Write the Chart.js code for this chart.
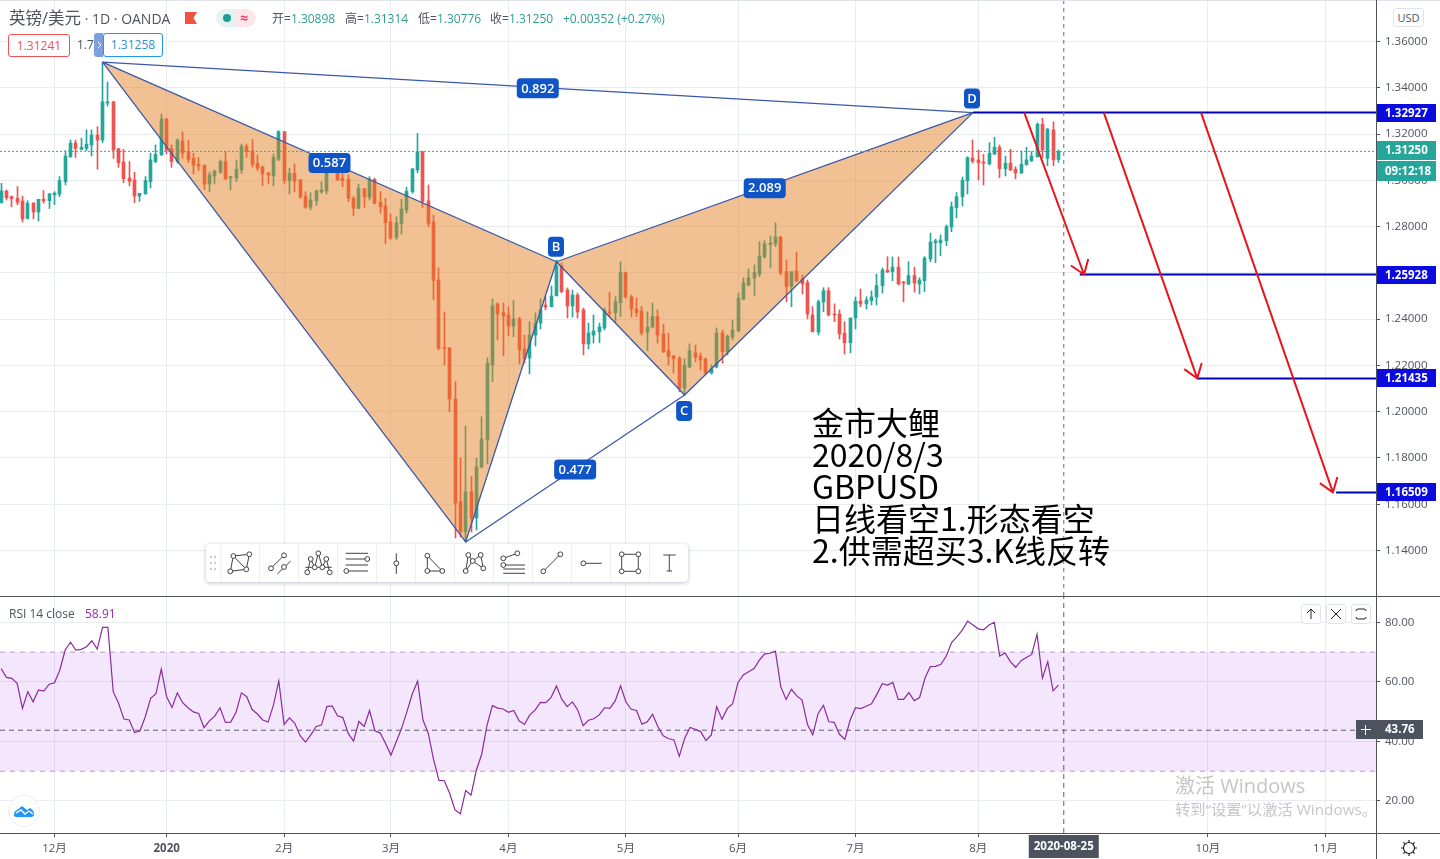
<!DOCTYPE html>
<html>
<head>
<meta charset="utf-8">
<title>GBPUSD</title>
<script src="https://cdn.jsdelivr.net/npm/chart.js@4/dist/chart.umd.min.js"></script>
<style>
  html, body { margin: 0; padding: 0; background: #fff; overflow: hidden; }
  body { width: 1440px; height: 859px; position: relative; font-family: "Open Sans", "Noto Sans CJK SC", sans-serif; color: #50535e; }
  canvas { position: absolute; left: 0; }
  #mainChart { top: 0; }
  #rsiChart { top: 596px; }
  .abs { position: absolute; white-space: nowrap; }
  .hline { position: absolute; left: 0; width: 1440px; height: 1px; background: #50535e; }
  .vline { position: absolute; top: 0; left: 1376px; width: 1px; height: 859px; background: #50535e; }
  .ohlc { top: 11px; font-size: 12px; line-height: 15px; color: #50535e; }
  .ohlc b { font-weight: normal; color: #2f9d92; }
  .note { left: 812px; font-size: 32px; line-height: 32px; color: #000; font-family: "Noto Sans CJK SC", sans-serif; }
  .pbtn { top: 604px; width: 18px; height: 18px; border: 1px solid #e0e3eb; border-radius: 3px; background: #fff; }
  #tools { left: 206px; top: 544px; width: 482px; height: 38px; background: #fff; border-radius: 4px; box-shadow: 0 1px 4px rgba(70,80,110,.35); }
</style>
</head>
<body>
<canvas id="mainChart" width="1440" height="596"></canvas>
<canvas id="rsiChart" width="1440" height="263"></canvas>

<div class="hline" style="top:0;background:#e0e3eb"></div>
<div class="hline" style="top:596px"></div>
<div class="hline" style="top:833px"></div>
<div class="vline"></div>

<div class="abs" style="left:9px;top:9px;font-size:14px;line-height:18px"><span style="font-size:16.5px">英镑/美元</span> · 1D · OANDA</div>
<svg class="abs" style="left:184px;top:11px" width="14" height="14"><path d="M1 1H13L9.5 7L13 13H1Z" fill="#f0533f"/></svg>
<div class="abs" style="left:216px;top:9px;width:20px;height:18px;background:#e3f3f1;border-radius:9px 0 0 9px"></div>
<div class="abs" style="left:236px;top:9px;width:20px;height:18px;background:#fde6ea;border-radius:0 9px 9px 0"></div>
<div class="abs" style="left:223px;top:14px;width:8px;height:8px;background:#1f9c90;border-radius:50%"></div>
<div class="abs" style="left:240px;top:9px;font-size:14px;line-height:17px;font-weight:bold;color:#ec407a">≈</div>
<div class="abs ohlc" style="left:272px">开=<b>1.30898</b></div>
<div class="abs ohlc" style="left:345px">高=<b>1.31314</b></div>
<div class="abs ohlc" style="left:418px">低=<b>1.30776</b></div>
<div class="abs ohlc" style="left:490px">收=<b>1.31250</b></div>
<div class="abs ohlc" style="left:563px"><b>+0.00352 (+0.27%)</b></div>

<div class="abs" style="left:8px;top:34px;width:60px;height:21px;border:1px solid #ef5350;border-radius:3px;background:#fff;color:#ef5350;font-size:12px;line-height:21px;text-align:center">1.31241</div>
<div class="abs" style="left:77px;top:37px;font-size:12px;line-height:15px">1.7</div>
<svg class="abs" style="left:94px;top:33px" width="9" height="24"><path d="M3 0H9V24H3Q0 24 0 21V3Q0 0 3 0Z" fill="#7e9fe0"/><path d="M4 9L7 12L4 15" fill="none" stroke="#fff"/></svg>
<div class="abs" style="left:103px;top:33px;width:58px;height:22px;border:1px solid #2196f3;border-radius:3px;background:#fff;color:#2a8fe0;font-size:12px;line-height:22px;text-align:center">1.31258</div>

<div class="abs note" style="top:405px">金市大鲤</div>
<div class="abs note" style="top:437px">2020/8/3</div>
<div class="abs note" style="top:469px">GBPUSD</div>
<div class="abs note" style="top:501px">日线看空1.形态看空</div>
<div class="abs note" style="top:533px">2.供需超买3.K线反转</div>

<div id="tools" class="abs"></div>
<svg id="toolIcons" class="abs" style="left:0;top:0;pointer-events:none" width="1440" height="596"></svg>

<div class="abs" style="left:1393px;top:8px;width:29px;height:17px;border:1px solid #e0e3eb;border-radius:3px;font-size:11px;line-height:17px;text-align:center;background:#fff">USD</div>

<div class="abs" style="left:9px;top:606px;font-size:12px;line-height:15px">RSI 14 close</div>
<div class="abs" style="left:85px;top:606px;font-size:12px;line-height:15px;color:#9c27b0">58.91</div>
<svg class="abs pbtn" style="left:1301px" viewBox="0 0 18 18"><path d="M9 14V4M5 8L9 4L13 8" fill="none" stroke="#222"/></svg>
<svg class="abs pbtn" style="left:1326px" viewBox="0 0 18 18"><path d="M4 4L14 14M14 4L4 14" fill="none" stroke="#222"/></svg>
<svg class="abs pbtn" style="left:1351px" viewBox="0 0 18 18"><path d="M6 4H12Q14 4 14 6M14 12Q14 14 12 14H6Q4 14 4 12M4 6Q4 4 6 4" fill="none" stroke="#222"/></svg>

<svg class="abs" style="left:7px;top:794px" width="34" height="34">
  <circle cx="17" cy="17" r="15.5" fill="#fff" stroke="#ececec"/>
  <path d="M7 21Q7 17 10 16L15 12L20 16L23 14Q27 16 27 20Q27 23 24 23H10Q7 23 7 21Z" fill="#2196f3"/>
  <path d="M9 19L14 16L18 20L22 17L26 20" fill="none" stroke="#fff" stroke-width="1.4"/>
</svg>

<div class="abs" style="left:1175px;top:773px;font-size:20px;line-height:25px;color:#c6c6c6">激活 Windows</div>
<div class="abs" style="left:1175px;top:800px;font-size:15.3px;line-height:18px;color:#c6c6c6">转到“设置”以激活 Windows。</div>

<svg class="abs" style="left:1399px;top:838px" width="20" height="20">
  <circle cx="10" cy="10" r="5.5" fill="none" stroke="#222" stroke-width="1.2"/>
  <path d="M10 2V4.5M10 15.5V18M2 10H4.5M15.5 10H18M4.4 4.4L6.1 6.1M13.9 13.9L15.6 15.6M4.4 15.6L6.1 13.9M13.9 6.1L15.6 4.4" stroke="#222" stroke-width="1.2"/>
</svg>

<script>
// candles, oldest first (2019-11 .. 2020-08-24)
const opens = [
  1.2904,1.2954,1.2930,1.2922,1.2911,1.2835,1.2901,1.2863,1.2918,1.2912,
  1.2937,1.2940,1.2994,1.3102,1.3161,1.3134,1.3138,1.3153,1.3196,1.3174,
  1.3334,1.3339,1.3136,1.3079,1.3010,1.3002,1.2932,1.2941,1.2994,1.3081,
  1.3110,1.3265,1.3138,1.3081,1.3170,1.3124,1.3095,1.3069,1.3065,1.2984,
  1.3019,1.3035,1.3081,1.3010,1.3009,1.3045,1.3146,1.3127,1.3074,1.3058,
  1.3032,1.3019,1.3091,1.3210,1.2999,1.3030,1.3002,1.2932,1.2884,1.2912,
  1.2950,1.2954,1.3038,1.3059,1.3009,1.3004,1.2922,1.2879,1.2963,1.2927,
  1.3004,1.2904,1.2889,1.2820,1.2754,1.2814,1.2872,1.2951,1.3045,1.3124,
  1.2911,1.2820,1.2569,1.2277,1.2275,1.2055,1.1611,1.1480,1.1654,1.1540,
  1.1761,1.1878,1.2202,1.2466,1.2428,1.2418,1.2370,1.2401,1.2271,1.2232,
  1.2331,1.2383,1.2461,1.2454,1.2501,1.2631,1.2526,1.2457,1.2504,1.2440,
  1.2293,1.2331,1.2346,1.2362,1.2431,1.2427,1.2471,1.2601,1.2496,1.2444,
  1.2435,1.2344,1.2366,1.2411,1.2336,1.2264,1.2241,1.2232,1.2102,1.2193,
  1.2254,1.2238,1.2228,1.2167,1.2193,1.2340,1.2259,1.2323,1.2349,1.2487,
  1.2548,1.2578,1.2595,1.2669,1.2722,1.2725,1.2755,1.2605,1.2543,1.2608,
  1.2574,1.2558,1.2418,1.2344,1.2474,1.2523,1.2422,1.2422,1.2340,1.2298,
  1.2405,1.2478,1.2466,1.2480,1.2496,1.2545,1.2612,1.2605,1.2625,1.2561,
  1.2552,1.2588,1.2552,1.2566,1.2660,1.2730,1.2730,1.2739,1.2798,1.2882,
  1.2929,1.2998,1.3097,1.3088,1.3079,1.3071,1.3114,1.3143,1.3050,1.3074,
  1.3048,1.3032,1.3068,1.3085,1.3102,1.3242,1.3095,1.3218,1.30898
];
const highs = [
  1.2987,1.2958,1.2932,1.2973,1.2932,1.2912,1.2904,1.2918,1.2956,1.2944,
  1.2951,1.3016,1.3128,1.3174,1.3174,1.3182,1.3218,1.3218,1.3232,1.3511,
  1.3425,1.3342,1.3138,1.3134,1.3081,1.3035,1.2944,1.3016,1.3117,1.3153,
  1.3287,1.3267,1.3153,1.3180,1.3210,1.3174,1.3117,1.3099,1.3067,1.3036,
  1.3045,1.3088,1.3124,1.3016,1.3088,1.3157,1.3157,1.3177,1.3110,1.3062,
  1.3034,1.3114,1.3215,1.3212,1.3052,1.3071,1.3004,1.2951,1.2947,1.2958,
  1.2994,1.3059,1.3088,1.3062,1.3038,1.3023,1.2930,1.2984,1.2965,1.3016,
  1.3009,1.2951,1.2922,1.2855,1.2843,1.2918,1.2970,1.3052,1.3203,1.3126,
  1.2980,1.2850,1.2622,1.2431,1.2277,1.2130,1.1800,1.1938,1.1719,1.1800,
  1.1978,1.2232,1.2487,1.2471,1.2470,1.2453,1.2480,1.2409,1.2331,1.2389,
  1.2427,1.2487,1.2497,1.2543,1.2656,1.2643,1.2535,1.2526,1.2513,1.2448,
  1.2383,1.2418,1.2383,1.2448,1.2517,1.2497,1.2648,1.2604,1.2504,1.2491,
  1.2454,1.2432,1.2470,1.2440,1.2379,1.2340,1.2243,1.2238,1.2228,1.2293,
  1.2288,1.2254,1.2232,1.2202,1.2362,1.2353,1.2331,1.2396,1.2513,1.2578,
  1.2617,1.2634,1.2735,1.2739,1.2759,1.2816,1.2759,1.2656,1.2605,1.2690,
  1.2591,1.2569,1.2454,1.2483,1.2536,1.2536,1.2466,1.2440,1.2389,1.2405,
  1.2496,1.2530,1.2497,1.2522,1.2595,1.2621,1.2670,1.2669,1.2669,1.2563,
  1.2648,1.2625,1.2579,1.2670,1.2772,1.2746,1.2764,1.2807,1.2906,1.2947,
  1.3014,1.3102,1.3174,1.3131,1.3112,1.3163,1.3186,1.3153,1.3105,1.3134,
  1.3059,1.3127,1.3143,1.3124,1.3248,1.3268,1.3225,1.3253,1.31314
];
const lows = [
  1.2901,1.2915,1.2886,1.2894,1.2820,1.2833,1.2833,1.2824,1.2901,1.2878,
  1.2895,1.2930,1.2980,1.3099,1.3099,1.3131,1.3128,1.3105,1.3048,1.3163,
  1.3321,1.3095,1.3056,1.2990,1.2976,1.2904,1.2909,1.2941,1.2967,1.3076,
  1.3107,1.3114,1.3056,1.3074,1.3095,1.3076,1.3028,1.3042,1.2961,1.2951,
  1.2984,1.3030,1.3004,1.2958,1.2994,1.3030,1.3099,1.3056,1.3042,1.2976,
  1.2984,1.2976,1.3085,1.2984,1.2941,1.2950,1.2922,1.2879,1.2872,1.2892,
  1.2944,1.2941,1.3033,1.2999,1.2973,1.2908,1.2846,1.2877,1.2883,1.2915,
  1.2898,1.2858,1.2725,1.2745,1.2745,1.2768,1.2858,1.2944,1.3033,1.2883,
  1.2800,1.2483,1.2267,1.2202,1.1999,1.1454,1.1458,1.1438,1.1480,1.1489,
  1.1757,1.1774,1.2130,1.2310,1.2241,1.2327,1.2324,1.2206,1.2210,1.2163,
  1.2284,1.2357,1.2440,1.2453,1.2500,1.2513,1.2405,1.2409,1.2405,1.2245,
  1.2271,1.2297,1.2298,1.2353,1.2411,1.2389,1.2411,1.2490,1.2409,1.2411,
  1.2331,1.2264,1.2362,1.2297,1.2255,1.2202,1.2167,1.2086,1.2072,1.2189,
  1.2216,1.2180,1.2163,1.2163,1.2189,1.2210,1.2245,1.2310,1.2346,1.2483,
  1.2543,1.2500,1.2583,1.2664,1.2621,1.2713,1.2591,1.2475,1.2454,1.2562,
  1.2509,1.2401,1.2344,1.2331,1.2432,1.2414,1.2389,1.2314,1.2249,1.2254,
  1.2357,1.2454,1.2444,1.2461,1.2461,1.2513,1.2601,1.2566,1.2548,1.2475,
  1.2548,1.2517,1.2509,1.2519,1.2648,1.2644,1.2674,1.2718,1.2778,1.2838,
  1.2889,1.2941,1.3075,1.3001,1.2980,1.3066,1.3111,1.3011,1.3019,1.3042,
  1.3006,1.3029,1.3065,1.3081,1.3100,1.3097,1.3063,1.3063,1.30776
];
const closes = [
  1.2954,1.2925,1.2921,1.2905,1.2833,1.2901,1.2863,1.2918,1.2911,1.2941,
  1.2945,1.2999,1.3105,1.3161,1.3138,1.3143,1.3156,1.3196,1.3174,1.3339,
  1.3339,1.3131,1.3076,1.3007,1.2996,1.2932,1.2944,1.2999,1.3088,1.3112,
  1.3265,1.3131,1.3081,1.3173,1.3117,1.3091,1.3066,1.3062,1.2984,1.3023,
  1.3040,1.3081,1.3006,1.3016,1.3048,1.3148,1.3124,1.3069,1.3052,1.3028,
  1.3023,1.3099,1.3210,1.2999,1.3030,1.2996,1.2927,1.2884,1.2915,1.2954,
  1.2958,1.3038,1.3059,1.3002,1.2999,1.2922,1.2879,1.2966,1.2929,1.3002,
  1.2901,1.2886,1.2817,1.2750,1.2817,1.2876,1.2953,1.3049,1.3124,1.2908,
  1.2814,1.2567,1.2274,1.2274,1.2055,1.1605,1.1481,1.1653,1.1540,1.1761,
  1.1882,1.2210,1.2457,1.2422,1.2414,1.2370,1.2401,1.2267,1.2228,1.2331,
  1.2383,1.2440,1.2453,1.2500,1.2631,1.2519,1.2457,1.2504,1.2431,1.2293,
  1.2340,1.2349,1.2367,1.2440,1.2427,1.2475,1.2601,1.2496,1.2444,1.2428,
  1.2340,1.2366,1.2411,1.2331,1.2259,1.2238,1.2229,1.2102,1.2202,1.2264,
  1.2236,1.2224,1.2167,1.2185,1.2340,1.2259,1.2327,1.2353,1.2491,1.2556,
  1.2578,1.2601,1.2673,1.2725,1.2729,1.2755,1.2600,1.2540,1.2605,1.2566,
  1.2552,1.2422,1.2346,1.2475,1.2523,1.2418,1.2418,1.2336,1.2298,1.2405,
  1.2478,1.2466,1.2483,1.2496,1.2545,1.2612,1.2604,1.2625,1.2552,1.2556,
  1.2588,1.2556,1.2569,1.2664,1.2733,1.2738,1.2742,1.2800,1.2886,1.2929,
  1.3001,1.3098,1.3082,1.3076,1.3074,1.3117,1.3143,1.3050,1.3074,1.3045,
  1.3032,1.3069,1.3088,1.3105,1.3242,1.3131,1.3221,1.3088,1.31250
];
const rsiValues = [
  64.5,61.5,61.2,59.5,51.1,56.7,53.3,57.3,56.9,59.2,
  59.7,64.0,70.7,73.3,70.7,70.9,71.8,73.8,71.0,78.3,
  78.3,56.7,52.8,47.5,47.2,43.0,43.5,48.3,54.5,56.0,
  64.3,55.0,51.4,56.3,53.0,51.3,49.9,49.4,44.6,46.9,
  48.5,51.3,46.4,46.5,49.8,56.3,55.0,50.7,49.2,47.2,
  46.5,52.2,60.3,45.7,47.9,46.1,41.9,39.8,42.2,45.0,
  45.5,51.7,51.9,48.6,48.0,42.7,40.1,46.7,45.0,50.4,
  43.6,42.8,39.3,35.4,39.9,44.4,50.0,55.9,60.3,47.2,
  42.7,33.8,26.9,26.8,22.6,17.0,15.7,23.5,22.0,30.4,
  35.7,45.5,52.0,51.2,50.9,49.8,50.4,46.9,45.7,48.9,
  50.5,53.1,53.0,54.8,58.6,54.2,51.7,53.3,50.5,45.3,
  47.1,47.6,48.9,51.3,51.1,53.6,58.7,53.3,50.8,50.4,
  45.8,46.6,49.1,44.9,41.9,40.9,40.5,35.0,41.0,44.7,
  44.1,43.3,40.3,42.2,51.7,47.4,51.1,52.7,59.8,62.3,
  63.4,64.5,67.3,69.4,69.6,70.3,58.4,54.1,57.5,55.3,
  53.9,45.7,42.2,49.4,52.1,46.6,46.4,42.4,40.7,47.2,
  51.3,51.0,51.8,52.6,55.8,59.4,58.9,59.8,54.1,54.1,
  56.4,53.7,54.7,61.2,65.1,65.2,65.9,68.7,73.2,75.2,
  77.4,80.4,79.1,77.8,77.5,79.1,80.0,68.7,69.7,66.8,
  64.9,67.1,68.2,69.2,76.0,61.2,66.8,57.0,58.91
];

// axes
const priceTicks = [1.36, 1.34, 1.32, 1.30, 1.28, 1.26, 1.24, 1.22, 1.20, 1.18, 1.16, 1.14];
const rsiTicks = [80, 60, 40, 20];
const monthBars = [10, 31, 53, 73, 95, 117, 138, 160, 183, 226, 248];
const monthLabels = ['12月', '2020', '2月', '3月', '4月', '5月', '6月', '7月', '8月', '10月', '11月'];
const yearBar = 31;
const crossBar = 199;
const crossDate = '2020-08-25';
const crossRsi = 43.76;

// XABCD pattern: bar index and price of each point
const patternBars = [19, 87, 104, 128, 182];
const patternPrices = [1.3511, 1.1437, 1.2648, 1.2072, 1.32927];
const patternRatios = ['0.892', '0.587', '2.089', '0.477'];

// target levels and the arrows drawn to them
const lastPrice = 1.3125;
const levelPrices = [1.32927, 1.25928, 1.21435, 1.16509];
const levelBars = [182, 202, 224, 250];
const arrowFromBars = [191.6, 206.5, 224.7];
const arrowToBars = [202.8, 224, 249.4];
const arrowToPrices = [1.2593, 1.2144, 1.1651];

const xMin = -0.206, xMax = 257.47;
const priceMin = 1.12033, priceMax = 1.37794;
const rsiMin = 9.25, rsiMax = 88.83;

const GRID = '#e9ecf1', TEXT = '#50535e', UP = '#26a69a', DOWN = '#ef5350';
const FONT = '"Open Sans", "Noto Sans CJK SC", sans-serif';
const PATTERN_LINE = '#3a58aa', BADGE = '#0f55c8';

function lineSet(points, color, width, order, dash, extra) {
  return Object.assign({
    type: 'line',
    data: points,
    borderColor: color,
    borderWidth: width,
    borderDash: dash || [],
    pointRadius: 0,
    tension: 0,
    fill: false,
    order
  }, extra || {});
}

function pt(i) {
  return { x: patternBars[i], y: patternPrices[i] };
}

function sideAxis(ticks, fmt) {
  return {
    position: 'right',
    afterBuildTicks: s => { s.ticks = ticks.map(v => ({ value: v })); },
    afterFit: s => { s.width = 64; s.paddingTop = 0; s.paddingBottom = 0; },
    border: { display: false },
    grid: { color: GRID, tickColor: TEXT, tickLength: 4 },
    ticks: { color: TEXT, padding: 5, font: { family: FONT, size: 11.5 }, callback: fmt, autoSkip: false }
  };
}

function roundBox(ctx, x, y, w, h, r, fill) {
  ctx.fillStyle = fill;
  ctx.beginPath();
  ctx.roundRect(x, y, w, h, r);
  ctx.fill();
}

function badge(ctx, cx, cy, w, text) {
  roundBox(ctx, cx - w / 2, cy - 10, w, 20, 4, BADGE);
  ctx.fillStyle = '#fff';
  ctx.font = '600 13px ' + FONT;
  ctx.textAlign = 'center';
  ctx.textBaseline = 'middle';
  ctx.fillText(text, cx, cy + 0.5);
}

function axisTag(ctx, top, h, w, fill, text) {
  ctx.fillStyle = fill;
  ctx.fillRect(1376, top, w, h);
  ctx.fillStyle = '#fff';
  ctx.font = 'bold 11.5px ' + FONT;
  ctx.textAlign = 'left';
  ctx.textBaseline = 'middle';
  ctx.fillText(text, 1385, top + h / 2 + 0.5);
}

// keep bars on whole pixels so the wicks stay sharp
const snapBars = {
  id: 'snapBars',
  beforeDatasetsDraw(chart) {
    chart.data.datasets.forEach((ds, i) => {
      if (ds.type !== 'bar') return;
      chart.getDatasetMeta(i).data.forEach(el => { el.x = Math.floor(el.x) + 0.5; });
    });
  }
};

const mainOverlay = {
  id: 'mainOverlay',
  afterDatasetsDraw(chart) {
    const { ctx, scales: { x, y } } = chart;
    ctx.save();

    // red arrows
    ctx.strokeStyle = '#e8161c';
    ctx.lineWidth = 2;
    arrowToBars.forEach((b, i) => {
      const x0 = x.getPixelForValue(arrowFromBars[i]), y0 = y.getPixelForValue(levelPrices[0]);
      const x1 = x.getPixelForValue(b), y1 = y.getPixelForValue(arrowToPrices[i]);
      const a = Math.atan2(y0 - y1, x0 - x1);
      ctx.beginPath();
      ctx.moveTo(x0, y0);
      ctx.lineTo(x1, y1);
      ctx.moveTo(x1 + 16 * Math.cos(a + 0.62), y1 + 16 * Math.sin(a + 0.62));
      ctx.lineTo(x1, y1);
      ctx.lineTo(x1 + 16 * Math.cos(a - 0.62), y1 + 16 * Math.sin(a - 0.62));
      ctx.stroke();
    });

    // ratio and point badges
    const mid = (a, b) => [
      x.getPixelForValue((patternBars[a] + patternBars[b]) / 2),
      y.getPixelForValue((patternPrices[a] + patternPrices[b]) / 2)
    ];
    [[0, 4], [0, 2], [2, 4], [1, 3]].forEach((pair, i) => {
      const [cx, cy] = mid(pair[0], pair[1]);
      badge(ctx, cx, cy + 1, 42, patternRatios[i]);
    });
    badge(ctx, x.getPixelForValue(patternBars[2]) - 0.5, y.getPixelForValue(patternPrices[2]) - 15, 16, 'B');
    badge(ctx, x.getPixelForValue(patternBars[3]) - 0.5, y.getPixelForValue(patternPrices[3]) + 16, 16, 'C');
    badge(ctx, x.getPixelForValue(patternBars[4]) - 1, y.getPixelForValue(patternPrices[4]) - 14, 16, 'D');

    // price tags on the axis
    levelPrices.forEach(p => {
      axisTag(ctx, Math.round(y.getPixelForValue(p)) - 9, 18, 60, '#0b0be0', p.toFixed(5));
    });
    const lastY = Math.round(y.getPixelForValue(lastPrice));
    axisTag(ctx, lastY - 10, 19, 60, UP, lastPrice.toFixed(5));
    axisTag(ctx, lastY + 10, 20, 60, UP, '09:12:18');
    ctx.restore();
  }
};

const rsiOverlay = {
  id: 'rsiOverlay',
  afterDatasetsDraw(chart) {
    const { ctx, scales: { x, y } } = chart;
    ctx.save();
    const cy = Math.round(y.getPixelForValue(crossRsi));
    ctx.fillStyle = '#4c525e';
    ctx.fillRect(1356, cy - 10, 20, 19);
    ctx.strokeStyle = '#fff';
    ctx.lineWidth = 1;
    ctx.beginPath();
    ctx.moveTo(1361, cy - 0.5);
    ctx.lineTo(1371, cy - 0.5);
    ctx.moveTo(1365.5, cy - 5);
    ctx.lineTo(1365.5, cy + 5);
    ctx.stroke();
    axisTag(ctx, cy - 10, 19, 47, '#4c525e', crossRsi.toFixed(2));

    const cx = x.getPixelForValue(crossBar);
    ctx.fillStyle = '#4c525e';
    ctx.fillRect(cx - 35, 239, 70, 23);
    ctx.fillStyle = '#fff';
    ctx.font = 'bold 11.5px ' + FONT;
    ctx.textAlign = 'center';
    ctx.textBaseline = 'middle';
    ctx.fillText(crossDate, cx, 251);
    ctx.restore();
  }
};

const wicks = opens.map((o, i) => ({ x: i, y: [lows[i], highs[i]] }));
const bodies = opens.map((o, i) => ({ x: i, y: [o, closes[i]] }));
const candleColors = opens.map((o, i) => closes[i] >= o ? UP : DOWN);

const mainDatasets = [
  { type: 'bar', data: wicks, backgroundColor: candleColors, barThickness: 1, grouped: false, order: 9 },
  { type: 'bar', data: bodies, backgroundColor: candleColors, barThickness: 3, minBarLength: 1, grouped: false, order: 8 },
  lineSet([pt(0), pt(1), pt(2)], PATTERN_LINE, 1.3, 7, [], { fill: 'shape', backgroundColor: 'rgba(228,125,30,0.48)' }),
  lineSet([pt(2), pt(3), pt(4)], PATTERN_LINE, 1.3, 7, [], { fill: 'shape', backgroundColor: 'rgba(228,125,30,0.48)' }),
  lineSet([pt(0), pt(2)], PATTERN_LINE, 1.3, 6),
  lineSet([pt(2), pt(4)], PATTERN_LINE, 1.3, 6),
  lineSet([pt(1), pt(3)], PATTERN_LINE, 1.3, 6),
  lineSet([pt(0), pt(4)], PATTERN_LINE, 1.3, 6),
  lineSet([{ x: xMin, y: lastPrice }, { x: xMax, y: lastPrice }], '#1fb5a6', 1, 5, [2, 2])
];
levelPrices.forEach((p, i) => {
  mainDatasets.push(lineSet([{ x: levelBars[i], y: p }, { x: xMax, y: p }], '#0000b4', 2, 4));
});
mainDatasets.push(lineSet([{ x: crossBar, y: priceMin }, { x: crossBar, y: priceMax }], '#6a6d78', 1, 3, [4, 4]));

new Chart(document.getElementById('mainChart'), {
  type: 'bar',
  data: { datasets: mainDatasets },
  plugins: [snapBars, mainOverlay],
  options: {
    responsive: false,
    animation: false,
    events: [],
    layout: { padding: 0 },
    plugins: { legend: { display: false }, tooltip: { enabled: false } },
    scales: {
      x: {
        type: 'linear',
        min: xMin,
        max: xMax,
        offset: false,
        afterBuildTicks: s => { s.ticks = monthBars.map(v => ({ value: v })); },
        afterFit: s => { s.height = 0; s.paddingLeft = 0; s.paddingRight = 0; },
        border: { display: false },
        grid: { color: GRID, offset: false, drawTicks: false },
        ticks: { display: false }
      },
      y: Object.assign(sideAxis(priceTicks, v => v.toFixed(5)), { min: priceMin, max: priceMax })
    }
  }
});

const rsiPoints = rsiValues.map((v, i) => ({ x: i, y: v }));
const BAND_LINE = 'rgba(112,84,125,0.5)';

new Chart(document.getElementById('rsiChart'), {
  type: 'line',
  data: {
    datasets: [
      lineSet([{ x: xMin, y: 70 }, { x: xMax, y: 70 }], BAND_LINE, 1, 5, [5, 5], { fill: '+1', backgroundColor: 'rgba(150,10,235,0.1)' }),
      lineSet([{ x: xMin, y: 30 }, { x: xMax, y: 30 }], BAND_LINE, 1, 5, [5, 5]),
      lineSet(rsiPoints, '#8a2c9c', 1.2, 2),
      lineSet([{ x: xMin, y: crossRsi }, { x: xMax, y: crossRsi }], '#5d606b', 1, 3, [5, 4]),
      lineSet([{ x: crossBar, y: rsiMin }, { x: crossBar, y: rsiMax }], '#5d606b', 1, 3, [5, 4])
    ]
  },
  plugins: [rsiOverlay],
  options: {
    responsive: false,
    animation: false,
    events: [],
    layout: { padding: 0 },
    plugins: { legend: { display: false }, tooltip: { enabled: false } },
    scales: {
      x: {
        type: 'linear',
        min: xMin,
        max: xMax,
        afterBuildTicks: s => { s.ticks = monthBars.map(v => ({ value: v })); },
        afterFit: s => { s.height = 26; s.paddingLeft = 0; s.paddingRight = 0; },
        border: { display: false },
        grid: { color: GRID, tickColor: TEXT, tickLength: 4 },
        ticks: {
          color: TEXT,
          padding: 5,
          maxRotation: 0,
          autoSkip: false,
          font: c => ({ family: FONT, size: 11.5, weight: c.tick && c.tick.value === yearBar ? 'bold' : 'normal' }),
          callback: v => monthLabels[monthBars.indexOf(v)]
        }
      },
      y: Object.assign(sideAxis(rsiTicks, v => v.toFixed(2)), { min: rsiMin, max: rsiMax })
    }
  }
});

// drawing toolbar: separators, grip dots and the twelve tool icons
const toolSeparators = [221, 259.5, 298.5, 337.5, 376.5, 415.5, 454.5, 493.5, 532.5, 571.5, 610.5, 649.5];
const gripDots = [[211, 557], [215, 557], [211, 563], [215, 563], [211, 569], [215, 569]];
const toolLines = [
  [233.3, 556, 249.3, 554.3], [249.3, 554.3, 246.3, 569.3], [246.3, 569.3, 230.3, 571.3], [230.3, 571.3, 233.3, 556], [233.3, 556, 246.3, 569.3],
  [271, 568.3, 284, 555.3], [277.3, 574, 290.7, 561],
  [307.3, 572.3, 310.7, 559], [310.7, 559, 314.7, 567.3], [314.7, 567.3, 318.3, 553.3], [318.3, 553.3, 322.3, 567.3], [322.3, 567.3, 326.3, 559], [326.3, 559, 329.7, 572.3], [305.3, 567.3, 331.7, 567.3],
  [345.7, 553.3, 368, 553.3], [345.7, 559, 367, 559], [345.7, 565, 368, 565], [346, 571, 368, 571],
  [396.3, 553.3, 396.3, 574],
  [427.3, 555.7, 427.3, 571], [427.3, 571, 442.3, 571], [442.3, 571, 427.3, 555.7],
  [468.3, 555, 465.7, 571], [465.7, 571, 472.7, 561], [472.7, 561, 480.7, 555], [480.7, 555, 483.3, 568.3], [483.3, 568.3, 472.7, 561], [472.7, 561, 468.3, 555],
  [503.3, 558.3, 517.3, 553.3], [503.3, 565, 525, 565], [503.3, 569, 525, 569], [503.3, 573.3, 525, 573.3],
  [543.3, 571.3, 560.3, 554.3],
  [583.3, 563.3, 601.7, 563.3],
  [621.7, 554.3, 638.3, 554.3], [638.3, 554.3, 638.3, 571.3], [638.3, 571.3, 621.7, 571.3], [621.7, 571.3, 621.7, 554.3],
  [663.3, 555, 675.7, 555], [669.3, 555, 669.3, 571], [666.7, 571, 672, 571]
];
const toolKnots = [
  [233.3, 556], [249.3, 554.3], [246.3, 569.3], [230.3, 571.3],
  [271, 568.3], [284, 555.3], [284, 567],
  [307.3, 572.3], [310.7, 559], [314.7, 567.3], [318.3, 553.3], [322.3, 567.3], [326.3, 559], [329.7, 572.3],
  [367.3, 559], [346.3, 571],
  [396.3, 563.3],
  [427.3, 555.7], [427.3, 571], [442.3, 571],
  [465.7, 571], [468.3, 555], [472.7, 561], [480.7, 555], [483.3, 568.3],
  [503.3, 558.3], [517.3, 553.3], [503.3, 565],
  [543.3, 571.3], [560.3, 554.3],
  [583.3, 563.3],
  [621.7, 554.3], [638.3, 554.3], [638.3, 571.3], [621.7, 571.3]
];
let toolSvg = '';
toolSeparators.forEach(x => { toolSvg += `<line x1="${x}" y1="544" x2="${x}" y2="582" stroke="#eceef2"/>`; });
gripDots.forEach(d => { toolSvg += `<circle cx="${d[0]}" cy="${d[1]}" r="1.2" fill="#c9ccd4"/>`; });
toolLines.forEach(l => { toolSvg += `<line x1="${l[0]}" y1="${l[1]}" x2="${l[2]}" y2="${l[3]}" stroke="#3f4146"/>`; });
toolKnots.forEach(k => { toolSvg += `<circle cx="${k[0]}" cy="${k[1]}" r="2.4" fill="#fff" stroke="#3f4146"/>`; });
document.getElementById('toolIcons').innerHTML = toolSvg;
</script>
</body>
</html>
